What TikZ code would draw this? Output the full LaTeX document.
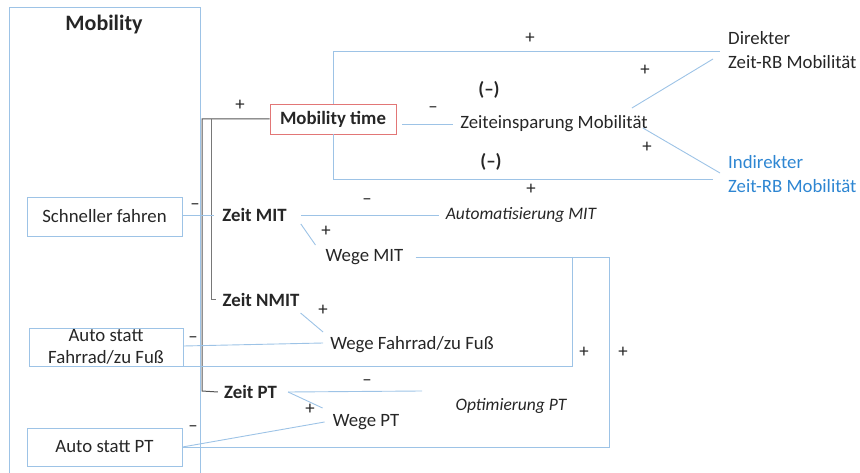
\documentclass[tikz,border=0pt]{standalone}
\usepackage{fontspec}
\setmainfont{Carlito}
\definecolor{lb}{RGB}{157,195,230}
\definecolor{tb}{RGB}{46,134,210}
\definecolor{rb}{RGB}{226,118,118}
\definecolor{dg}{RGB}{85,85,85}
\definecolor{mg}{RGB}{120,120,120}
\begin{document}
\begin{tikzpicture}[x=1pt,y=-1pt,
  every node/.style={font=\fontsize{18.8}{22}\selectfont, inner sep=0pt, text=black!85},
  box/.style={draw=lb, line width=0.9pt, align=center},
  lnk/.style={draw=lb, line width=0.9pt},
  gl/.style={draw=dg, line width=1pt},
  gl2/.style={draw=mg, line width=1pt},
  sg/.style={font=\fontsize{18.8}{20}\selectfont},
  bsg/.style={font=\bfseries\fontsize{19}{20}\selectfont},
  bt/.style={font=\bfseries\fontsize{18.8}{22}\selectfont},
  it/.style={font=\itshape\fontsize{17.5}{20}\selectfont},
  two/.style={align=left, font=\fontsize{18.8}{24}\selectfont, anchor=west}]
\useasboundingbox (0,0) rectangle (860,473);
% big Mobility box
\draw[lnk] (9,480) -- (9,7) -- (200,7) -- (200,480);
\node[font=\bfseries\fontsize{22}{24}\selectfont] (mob) at (104,25) {Mobility};
% nodes
\node[draw=rb, line width=0.9pt, minimum width=126pt, minimum height=30pt, bt] (mt) at (333,119) {Mobility time};
\node (ze) at (554,124) {Zeiteinsparung Mobilität};
\node[two] (dir) at (728,50) {Direkter\\Zeit-RB Mobilität};
\node[two, text=tb] (ind) at (728,174) {Indirekter\\Zeit-RB Mobilität};
\node[box, minimum width=155pt, minimum height=39pt] (sf) at (104.5,216.5) {Schneller fahren};
\node[bt] (zmit) at (254.5,215) {Zeit MIT};
\node[it] (amit) at (521,215) {Automatisierung MIT};
\node (wmit) at (364.5,257) {Wege MIT};
\node[bt] (znmit) at (261,300) {Zeit NMIT};
\node[box, minimum width=154pt, minimum height=38pt, font=\fontsize{18.8}{22}\selectfont] (af) at (106,347) {Auto statt\\Fahrrad/zu Fuß};
\node (wf) at (412,345) {Wege Fahrrad/zu Fuß};
\node[bt] (zpt) at (250.5,392) {Zeit PT};
\node[it] (opt) at (511,406) {Optimierung PT};
\node (wpt) at (366,422) {Wege PT};
\node[box, minimum width=155pt, minimum height=38pt] (apt) at (104.5,447) {Auto statt PT};
% gray bracket
\draw[gl] (mt.west) -- (202,119) -- (202,391) -- ([xshift=-6pt]zpt.west);
\draw[gl2] (211,119) -- (211,300) -- ([xshift=-6pt]znmit.west);
\node[sg] (p1) at (240,105) {+};
% mobility time -> zeiteinsparung
\draw[lnk] ([xshift=6pt]mt.east |- ze.west) -- ([xshift=-7pt]ze.west);
\node[sg] (m1) at (433,110) {–};
% outer bracket
\draw[lnk] (mt.north) |- ([xshift=-8pt,yshift=-1pt]dir.west);
\draw[lnk] (mt.south) |- ([xshift=-15pt,yshift=-5pt]ind.west);
\node[sg] (p2) at (530,38) {+};
\node[sg] (p3) at (531,189) {+};
\node[bsg] (pm1) at (489,90) {(–)};
\node[bsg] (pm2) at (491,162) {(–)};
% ze -> dir / ind
\draw[lnk] ([xshift=-16pt,yshift=16pt]ze.east) -- ([xshift=-15pt,yshift=-9pt]dir.west);
\draw[lnk] ([xshift=-5pt,yshift=-4pt]ze.east) -- ([xshift=-8pt,yshift=1pt]ind.west);
\node[sg] (p4) at (645,70) {+};
\node[sg] (p5) at (647,147) {+};
% Schneller fahren -> Zeit MIT
\draw[lnk] (sf.east |- zmit.west) -- ([xshift=-8pt]zmit.west);
\node[sg] (m2) at (195,207) {–};
% Zeit MIT -> Automatisierung
\draw[lnk] ([xshift=14pt]zmit.east) -- ([xshift=-7pt]amit.west);
\node[sg] (m3) at (367,202) {–};
% Zeit MIT -> Wege MIT
\draw[lnk] ([xshift=14pt,yshift=-9pt]zmit.east) -- ([xshift=-10pt,yshift=12pt]wmit.west);
\node[sg] (p6) at (326,231) {+};
% Wege MIT feedback
\coordinate (c1) at (572,257);
\coordinate (c2) at (609,257);
\draw[lnk] ([xshift=12pt]wmit.east) -- (c2) -- (c2 |- apt.east) -- (apt.east);
\draw[lnk] (c1) -- (c1 |- af.south) -- (af.south east);
\node[sg] (p7) at (584,352) {+};
\node[sg] (p8) at (623,352) {+};
% Zeit NMIT -> Wege Fahrrad
\draw[lnk] ([xshift=1pt,yshift=-13pt]znmit.east) -- ([xshift=-7pt,yshift=13pt]wf.west);
\node[sg] (p9) at (323,310) {+};
% Auto statt Fahrrad -> Wege Fahrrad
\draw[lnk] ([yshift=1pt]af.east) -- ([xshift=-7pt,yshift=2pt]wf.west);
\node[sg] (m4) at (193,340) {–};
% Zeit PT -> Optimierung / Wege PT
\coordinate (zptr) at ([xshift=11pt]zpt.east);
\draw[lnk] (zptr) -- (422,391);
\node[sg] (m5) at (367,383) {–};
\draw[lnk] (zptr) -- ([xshift=-10pt,yshift=14pt]wpt.west);
\node[sg] (p10) at (310,409) {+};
% Auto statt PT -> Wege PT
\draw[lnk] (apt.east) -- ([xshift=-8pt]wpt.west);
\node[sg] (m6) at (193,429) {–};
\end{tikzpicture}
\end{document}
